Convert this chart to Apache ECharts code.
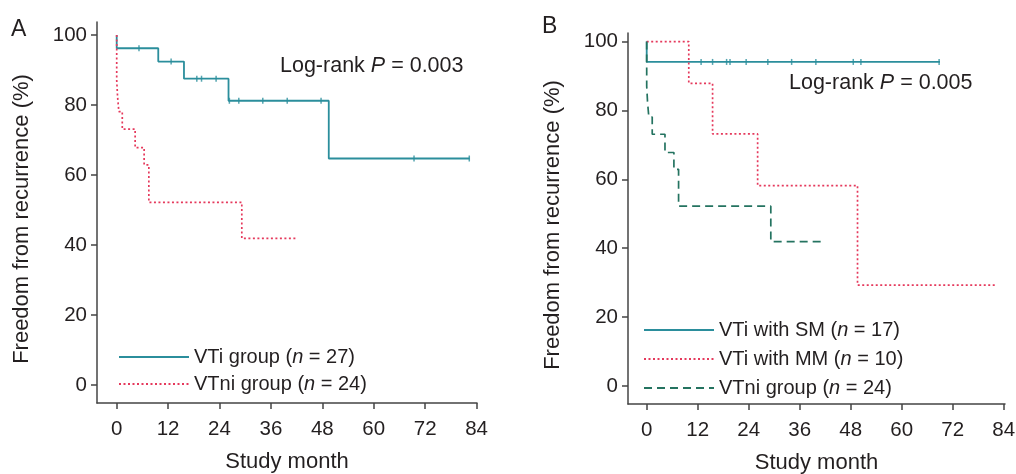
<!DOCTYPE html>
<html>
<head>
<meta charset="utf-8">
<script src="https://cdn.jsdelivr.net/npm/echarts@6/dist/echarts.min.js"></script>
<style>
  html, body { margin: 0; padding: 0; background: #fff; }
  #chart { width: 1016px; height: 474px; }
</style>
</head>
<body>
<div id="chart"></div>
<script>
// tick labels
var monthTicks = [0, 12, 24, 36, 48, 60, 72, 84];
var pctTicks = [0, 20, 40, 60, 80, 100];

// Kaplan-Meier curves: [month, freedom from recurrence %]
var vtiGroup = [[0, 100], [0, 96.2], [9.7, 92.4], [15.7, 87.5], [26.1, 81.2], [49.5, 64.7], [82.4, 64.7]];
var vtiGroupCensor = [5.2, 12.7, 18.7, 19.8, 23.2, 26.3, 28.5, 34.1, 39.8, 47.7, 69.4, 82.3];
var vtniGroup = [[0, 100], [0, 87.1], [0.2, 82.4], [0.5, 78.1], [1.3, 73.1], [4.3, 67.8], [6.4, 62.9], [7.5, 52.2], [29.2, 41.9], [42.1, 41.9]];
var vtiSM = [[0, 100], [0, 94.1], [69.0, 94.1]];
var vtiSMCensor = [12.8, 15.5, 18.8, 19.6, 23.4, 28.5, 34.1, 39.8, 48.6, 50.4, 68.8];
var vtiMM = [[0, 100], [9.9, 87.9], [15.5, 73.2], [26.1, 58.2], [49.6, 29.3], [82.2, 29.3]];

var FONT = "'Liberation Sans', Arial, sans-serif";
var TXT = "#231f20";
var TEAL = "#2b8e9c";
var RED = "#e5395c";
var GREEN = "#247360";

// value of a step curve at month t
function stepAt(curve, t) {
  var v = curve[0][1];
  for (var i = 0; i < curve.length; i++) {
    if (curve[i][0] <= t) v = curve[i][1];
  }
  return v;
}
function censorPoints(curve, times) {
  return times.map(function (t) { return [t, stepAt(curve, t)]; });
}

var names = {
  a1: ["VTi group (", "27)"],
  a2: ["VTni group (", "24)"],
  b1: ["VTi with SM (", "17)"],
  b2: ["VTi with MM (", "10)"],
  b3: ["VTni group (", "24)"]
};
function legendText(name) {
  var p = names[name];
  return "{t|" + p[0] + "}{i|n}{t| = " + p[1] + "}";
}
var legendRich = {
  t: { fontSize: 20, fontFamily: FONT, color: TXT, lineHeight: 22 },
  i: { fontSize: 20, fontFamily: FONT, color: TXT, fontStyle: "italic", lineHeight: 22 }
};

function xAxis(idx, min, max) {
  return {
    type: "value", gridIndex: idx, min: min, max: max,
    name: "Study month", nameLocation: "middle", nameGap: 48,
    nameTextStyle: { fontSize: 22, fontFamily: FONT, color: TXT },
    axisLine: { onZero: false, lineStyle: { color: "#444", width: 1.5 } },
    axisTick: { customValues: monthTicks, length: 6, lineStyle: { color: "#444", width: 1.5 } },
    axisLabel: { customValues: monthTicks, margin: 16, fontSize: 20.5, fontFamily: FONT, color: TXT },
    splitLine: { show: false }
  };
}
function yAxis(idx, min, max) {
  return {
    type: "value", gridIndex: idx, min: min, max: max,
    name: "Freedom from recurrence (%)", nameLocation: "middle", nameGap: 64,
    nameTextStyle: { fontSize: 22, fontFamily: FONT, color: TXT, padding: [0, 13, 0, 0] },
    axisLine: { show: true, onZero: false, lineStyle: { color: "#444", width: 1.5 } },
    axisTick: { show: true, customValues: pctTicks, length: 6, lineStyle: { color: "#444", width: 1.5 } },
    axisLabel: { customValues: pctTicks, margin: 10, fontSize: 20.5, fontFamily: FONT, color: TXT },
    splitLine: { show: false }
  };
}

function kmLine(name, idx, data, color, type) {
  return {
    name: name, type: "line", xAxisIndex: idx, yAxisIndex: idx,
    data: data, step: "end", symbol: "none", showSymbol: false,
    lineStyle: { color: color, width: type === "solid" ? 1.8 : 1.7, type: type },
    itemStyle: { color: color }
  };
}
function censor(idx, curve, times, color) {
  return {
    type: "scatter", xAxisIndex: idx, yAxisIndex: idx,
    data: censorPoints(curve, times),
    symbol: "rect", symbolSize: [1.5, 6], z: 3,
    itemStyle: { color: color }
  };
}

var chart = echarts.init(document.getElementById("chart"));
chart.setOption({
  animation: false,
  grid: [
    { left: 97, top: 22, width: 380, height: 381, outerBoundsMode: "none" },
    { left: 628, top: 33, width: 377, height: 371, outerBoundsMode: "none" }
  ],
  xAxis: [xAxis(0, -4.6, 84.1), xAxis(1, -4.4, 84.3)],
  yAxis: [yAxis(0, -5.14, 103.7), yAxis(1, -5.23, 102.5)],
  legend: [
    {
      data: ["a1", "a2"], orient: "vertical", left: 113, top: 342,
      itemWidth: 70, itemHeight: 14, itemGap: 7, formatter: legendText,
      itemStyle: { opacity: 0 },
      textStyle: { rich: legendRich }
    },
    {
      data: ["b1", "b2", "b3"], orient: "vertical", left: 638, top: 315,
      itemWidth: 70, itemHeight: 14, itemGap: 9, formatter: legendText,
      itemStyle: { opacity: 0 },
      textStyle: { rich: legendRich }
    }
  ],
  graphic: [
    { type: "text", left: 11, top: 18, style: { text: "A", fontSize: 23, fontFamily: FONT, fill: TXT } },
    { type: "text", left: 542, top: 15, style: { text: "B", fontSize: 23, fontFamily: FONT, fill: TXT } },
    {
      type: "text", left: 280, top: 55,
      style: {
        text: "{t|Log-rank }{i|P}{t| = 0.003}",
        rich: {
          t: { fontSize: 21.5, fontFamily: FONT, fill: TXT },
          i: { fontSize: 21.5, fontFamily: FONT, fill: TXT, fontStyle: "italic" }
        }
      }
    },
    {
      type: "text", left: 789, top: 72,
      style: {
        text: "{t|Log-rank }{i|P}{t| = 0.005}",
        rich: {
          t: { fontSize: 21.5, fontFamily: FONT, fill: TXT },
          i: { fontSize: 21.5, fontFamily: FONT, fill: TXT, fontStyle: "italic" }
        }
      }
    }
  ],
  series: [
    kmLine("a1", 0, vtiGroup, TEAL, "solid"),
    kmLine("a2", 0, vtniGroup, RED, [2, 2.5]),
    censor(0, vtiGroup, vtiGroupCensor, TEAL),
    kmLine("b1", 1, vtiSM, TEAL, "solid"),
    kmLine("b2", 1, vtiMM, RED, [2, 2.5]),
    kmLine("b3", 1, vtniGroup, GREEN, [8, 5]),
    censor(1, vtiSM, vtiSMCensor, TEAL)
  ]
});
</script>
</body>
</html>
